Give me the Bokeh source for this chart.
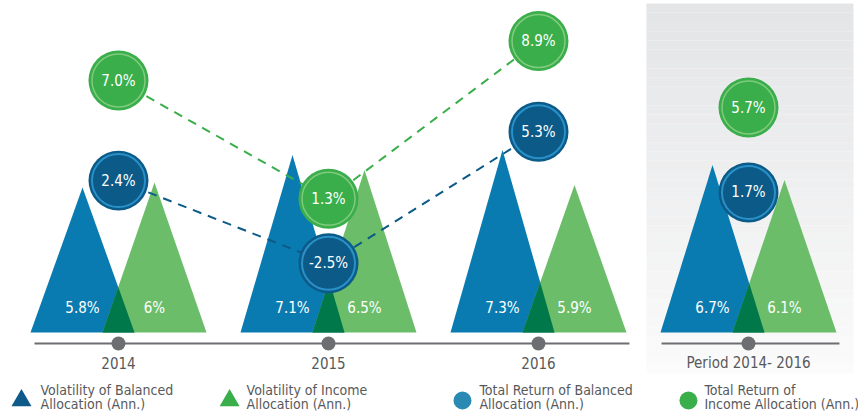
import numpy as np
from bokeh.plotting import figure
from bokeh.models import Range1d
from bokeh.core.properties import value
from bokeh.embed import file_html
from bokeh.resources import INLINE

# ---- data ----
categories = ["2014", "2015", "2016", "Period 2014- 2016"]
vol_balanced = [5.8, 7.1, 7.3, 6.7]
vol_income = [6.0, 6.5, 5.9, 6.1]
ret_balanced = [2.4, -2.5, 5.3, 1.7]
ret_income = [7.0, 1.3, 8.9, 5.7]
vol_bal_labels = ["5.8%", "7.1%", "7.3%", "6.7%"]
vol_inc_labels = ["6%", "6.5%", "5.9%", "6.1%"]
ret_bal_labels = ["2.4%", "-2.5%", "5.3%", "1.7%"]
ret_inc_labels = ["7.0%", "1.3%", "8.9%", "5.7%"]
legend_labels = [
    ["Volatility of Balanced", "Allocation (Ann.)"],
    ["Volatility of Income", "Allocation (Ann.)"],
    ["Total Return of Balanced", "Allocation (Ann.)"],
    ["Total Return of", "Income Allocation (Ann.)"],
]

# ---- styles ----
C_BLUE_TRI = "#0A7BB1"
C_GREEN_TRI = "#6BBD69"
C_OVERLAP = "#00784A"
C_GREEN_CIR = "#3AAE4A"
C_GREEN_RING = "#80CB7F"
C_BLUE_CIR = "#0B5A88"
C_BLUE_RING = "#2A90C8"
C_GRAY = "#6D6E71"
C_TEXT = "#58595B"
FONT = "'Liberation Sans Narrow', 'DejaVu Sans Condensed', sans-serif"

W, H = 858, 414
p = figure(width=W, height=H, output_backend="svg", toolbar_location=None,
           x_range=Range1d(-0.5619, 3.5238), y_range=Range1d(-3.28, 13.28),
           x_axis_location=None, y_axis_location=None, min_border=0)
p.grid.visible = False
p.outline_line_color = None
p.background_fill_color = "white"
p.extra_y_ranges = {"g": Range1d(-9.094, 10.857), "b": Range1d(-11.464, 13.077)}

xc = np.arange(len(categories), dtype=float)

# gray gradient panel for the period column
n = 40
tops = np.linspace(13.16, -1.64, n + 1)
c0 = np.array([228, 229, 231]); c1 = np.array([251, 251, 251])
cols = []
for k in range(n):
    t = k / (n - 1)
    c = (c0 * (1 - t) + c1 * t).astype(int)
    cols.append("#%02x%02x%02x" % tuple(c))
p.quad(left=[2.514] * n, right=[3.5] * n, top=tops[:-1], bottom=tops[1:],
       fill_color=cols, line_color=None)

# triangles
halfw, off = 0.2476, 0.1714
bx, by, gx, gy, ox, oy = [], [], [], [], [], []
for c, hb, hg in zip(xc, vol_balanced, vol_income):
    bx.append([c - off - halfw, c - off, c - off + halfw]); by.append([0, hb, 0])
    gx.append([c + off - halfw, c + off, c + off + halfw]); gy.append([0, hg, 0])
    yi = 2 * (halfw - off) / (halfw * (1 / hb + 1 / hg))
    xi = c - off + halfw - halfw * yi / hb
    ox.append([c + off - halfw, xi, c - off + halfw]); oy.append([0, yi, 0])
p.patches(bx, by, fill_color=C_BLUE_TRI, line_color=None)
p.patches(gx, gy, fill_color=C_GREEN_TRI, line_color=None)
p.patches(ox, oy, fill_color=C_OVERLAP, line_color=None)

p.text(x=list(xc - off), y=[1.0] * 4, text=vol_bal_labels, text_color="white",
       text_font=value(FONT), text_font_size="15px", text_align="center", text_baseline="middle")
p.text(x=list(xc + off), y=[1.0] * 4, text=vol_inc_labels, text_color="white",
       text_font=value(FONT), text_font_size="15px", text_align="center", text_baseline="middle")

# axis lines + ticks
p.line(x=[-0.4, 2.433], y=[-0.44, -0.44], line_color=C_GRAY, line_width=2)
p.line(x=[2.586, 3.433], y=[-0.44, -0.44], line_color=C_GRAY, line_width=2)
p.scatter(x=xc, y=[-0.44] * 4, size=14, fill_color=C_GRAY, line_color=None)
p.text(x=xc, y=[-1.2] * 4, text=categories, text_color=C_TEXT, text_font=value(FONT),
       text_font_size="15px", text_align="center", text_baseline="middle")

# dashed connectors
p.line(x=xc[:3], y=ret_income[:3], y_range_name="g", line_color=C_GREEN_CIR,
       line_width=2, line_dash="9 7")
p.line(x=xc[:3], y=ret_balanced[:3], y_range_name="b", line_color=C_BLUE_CIR,
       line_width=2, line_dash="9 7")

# circles
p.scatter(x=xc, y=ret_income, y_range_name="g", size=60, fill_color=C_GREEN_CIR, line_color=None)
p.scatter(x=xc, y=ret_income, y_range_name="g", size=53, fill_color=None,
          line_color=C_GREEN_RING, line_width=1.5)
p.scatter(x=xc, y=ret_balanced, y_range_name="b", size=60, fill_color=C_BLUE_CIR, line_color=None)
p.scatter(x=xc, y=ret_balanced, y_range_name="b", size=53, fill_color=None,
          line_color=C_BLUE_RING, line_width=2)
p.text(x=xc, y=ret_income, y_range_name="g", text=ret_inc_labels, text_color="white",
       text_font=value(FONT), text_font_size="15px", text_align="center", text_baseline="middle")
p.text(x=xc, y=ret_balanced, y_range_name="b", text=ret_bal_labels, text_color="white",
       text_font=value(FONT), text_font_size="15px", text_align="center", text_baseline="middle")

# legend
mk_x = [-0.462, 0.529, 1.638, 2.714]
tx_x = [-0.371, 0.610, 1.719, 2.790]
mk_shape = ["triangle", "triangle", "circle", "circle"]
mk_col = ["#0E5A8A", "#3AAE4A", "#2A8AB4", "#3AAE4A"]
mk_size = [20, 20, 18, 18]
for mx, tx, sh, mc, ms, lab in zip(mk_x, tx_x, mk_shape, mk_col, mk_size, legend_labels):
    p.scatter(x=[mx], y=[-2.72], marker=sh, size=ms, fill_color=mc, line_color=None)
    p.text(x=[tx, tx], y=[-2.28, -2.86], text=lab, text_color=C_TEXT, text_font=value(FONT),
           text_font_size="14px", text_align="left", text_baseline="middle")

open("out.html", "w").write(file_html(p, INLINE))
